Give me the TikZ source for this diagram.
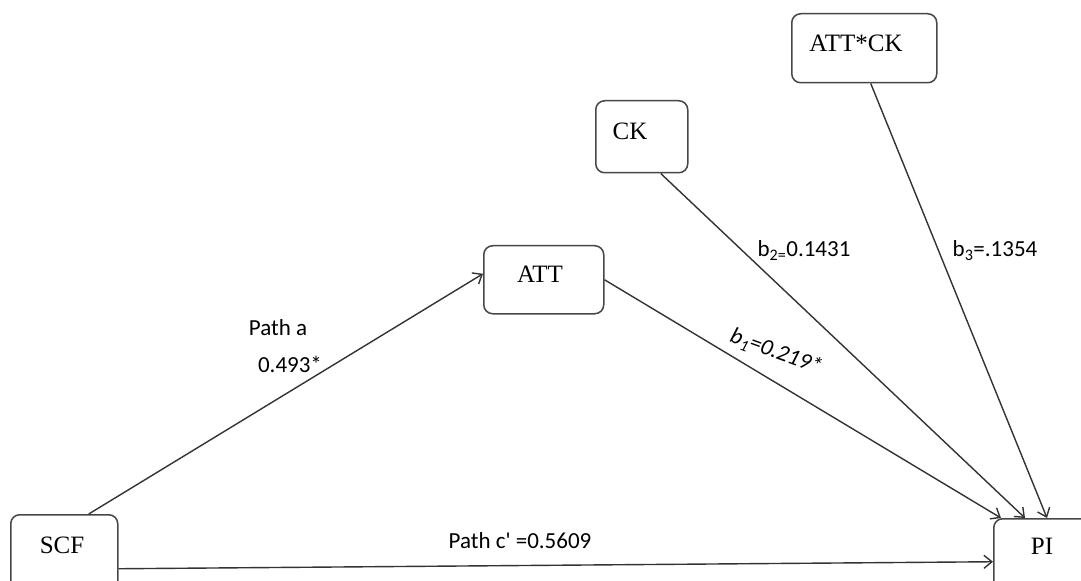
\documentclass[tikz,border=0pt]{standalone}
\usepackage{fontspec}
\setmainfont{Liberation Serif}
\newfontfamily\lblfont{Carlito}
\usetikzlibrary{arrows.meta,calc}
\definecolor{linegray}{HTML}{333333}
\definecolor{boxgray}{HTML}{474747}
\begin{document}
\begin{tikzpicture}[x=1bp,y=-1bp,
  box/.style={draw=boxgray, line width=1.5bp, rounded corners=9bp,
              inner sep=0pt, anchor=north west},
  boxtext/.style={font=\fontsize{25bp}{28bp}\selectfont, text=black,
                  inner sep=0pt, anchor=center},
  lbl/.style={font=\lblfont\fontsize{23bp}{26bp}\selectfont, text=black,
              inner sep=0pt, anchor=base},
  arr/.style={draw=linegray, line width=1.4bp,
              -{Straight Barb[length=8bp,width=13bp]}}
]
\useasboundingbox (0,0) rectangle (1081,581);
\fill[white] (0,0) rectangle (1081,581);

% variable boxes
\node[box, minimum width=107bp, minimum height=76bp] (scf) at (10,514) {};
\node[box, minimum width=120bp, minimum height=68bp] (att) at (483,245) {};
\node[box, minimum width=92bp,  minimum height=72bp] (ck) at (595,100) {};
\node[box, minimum width=145bp, minimum height=69bp] (attck) at (791,13) {};
\node[box, minimum width=130bp, minimum height=80bp] (pi) at (993,518) {};

% box captions
\node[boxtext] (scf-t)   at (62,545.5) {SCF};
\node[boxtext] (att-t)   at (540,274)  {ATT};
\node[boxtext] (ck-t)    at (630,131.5) {CK};
\node[boxtext] (attck-t) at (856,43)   {ATT*CK};
\node[boxtext] (pi-t)    at (1042,546) {PI};

% paths
\draw[arr] ([xshift=24.5bp]scf.north) -- ([yshift=6bp]att.west);
\draw[arr] (att.east) -- ([xshift=8bp]pi.north west);
\draw[arr] ([xshift=19bp]ck.south) -- ([xshift=32bp]pi.north west);
\draw[arr] ([xshift=6.5bp]attck.south) -- ([xshift=54bp]pi.north west);
\draw[arr] ([yshift=-16bp]scf.east) -- ([yshift=-3bp]pi.west);

% coefficients
\node[lbl] (pa-name) at (278,335) {Path a};
\node[lbl] (pa-val)  at (290,372) {0.493*};
\node[lbl] (b2)      at (804,257) {b\textsubscript{2=}0.1431};
\node[lbl] (b3)      at (995,257) {b\textsubscript{3}=.1354};
\node[lbl, font=\lblfont\itshape\fontsize{23bp}{26bp}\selectfont,
      anchor=center, rotate=-20] (b1) at (776,352) {b\textsubscript{1}=0.219*};
\node[lbl] (pc) at (520,548) {Path c' =0.5609};
\end{tikzpicture}
\end{document}
